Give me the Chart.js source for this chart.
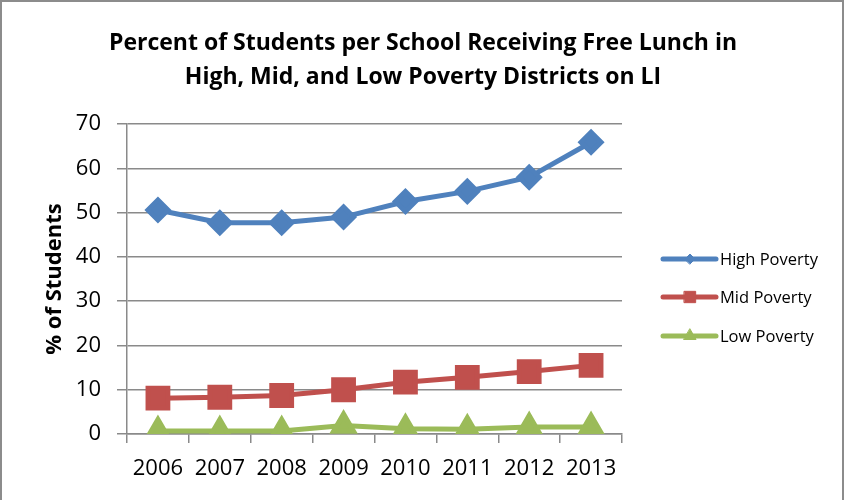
<!DOCTYPE html>
<html>
<head>
<meta charset="utf-8">
<script src="https://cdn.jsdelivr.net/npm/chart.js@4"></script>
<style>
  body { margin: 0; background: #fff; }
  #wrap { width: 846px; height: 500px; position: relative; }
</style>
</head>
<body>
<div id="wrap"><canvas id="lunchChart" width="846" height="500"></canvas></div>
<script>
// Data
const years = ['2006', '2007', '2008', '2009', '2010', '2011', '2012', '2013'];
const highPoverty = [50.6, 47.7, 47.7, 49.0, 52.5, 54.8, 58.0, 65.9];
const midPoverty = [8.1, 8.3, 8.7, 10.0, 11.7, 12.8, 14.1, 15.5];
const lowPoverty = [0.7, 0.7, 0.7, 1.9, 1.2, 1.1, 1.6, 1.6];
const seriesNames = ['High Poverty', 'Mid Poverty', 'Low Poverty'];

const FONT = '"Open Sans", "Noto Sans", sans-serif';
const GRID = '#8a8a8a';

// outer frame like the spreadsheet chart border
const framePlugin = {
    id: 'frame',
    beforeDraw(chart) {
        const c = chart.ctx;
        c.save();
        c.fillStyle = '#fff';
        c.fillRect(0, 0, chart.width, chart.height);
        c.strokeStyle = '#8c8c8c';
        c.lineWidth = 2;
        c.strokeRect(1, 1, 842, 540);
        c.restore();
    }
};

// legend drawn as line + marker sample, like Excel
const lineLegend = {
    id: 'lineLegend',
    afterDraw(chart) {
        const c = chart.ctx;
        const rows = [259, 297, 336];
        const sizes = [5, 8, 7];
        chart.data.datasets.forEach(function(ds, i) {
            const y = rows[i];
            c.save();
            c.strokeStyle = ds.borderColor;
            c.lineWidth = 5;
            c.lineCap = 'round';
            c.beginPath();
            c.moveTo(663, y);
            c.lineTo(716, y);
            c.stroke();
            c.fillStyle = ds.backgroundColor;
            c.strokeStyle = ds.borderColor;
            c.lineWidth = 1;
            Chart.helpers.drawPoint(c, { pointStyle: ds.pointStyle, radius: sizes[i], borderWidth: 1 }, 690, y);
            c.fillStyle = '#000';
            c.font = '16.5px ' + FONT;
            c.textBaseline = 'middle';
            c.textAlign = 'left';
            c.fillText(ds.label, 720, y + 1);
            c.restore();
        });
    }
};

const ctx = document.getElementById('lunchChart').getContext('2d');

new Chart(ctx, {
    type: 'line',
    data: {
        labels: years,
        datasets: [
            {
                label: seriesNames[0],
                data: highPoverty,
                borderColor: '#4F81BD',
                backgroundColor: '#4F81BD',
                pointStyle: 'rectRot',
                pointRadius: 10,
                borderWidth: 5
            },
            {
                label: seriesNames[1],
                data: midPoverty,
                borderColor: '#C0504D',
                backgroundColor: '#C0504D',
                pointStyle: 'rect',
                pointRadius: 14,
                borderWidth: 5
            },
            {
                label: seriesNames[2],
                data: lowPoverty,
                borderColor: '#9BBB59',
                backgroundColor: '#9BBB59',
                pointStyle: 'triangle',
                pointRadius: 11.5,
                borderWidth: 5
            }
        ]
    },
    options: {
        responsive: false,
        animation: false,
        layout: {
            padding: 0
        },
        elements: {
            line: { tension: 0 },
            point: { borderWidth: 1, hoverRadius: 10 }
        },
        plugins: {
            legend: { display: false },
            tooltip: { enabled: false },
            title: {
                display: true,
                text: ['Percent of Students per School Receiving Free Lunch in',
                       'High, Mid, and Low Poverty Districts on LI'],
                color: '#000',
                font: { family: FONT, size: 23, weight: 'bold', lineHeight: 1.48 },
                padding: { top: 26, bottom: 30 }
            }
        },
        scales: {
            x: {
                offset: true,
                grid: {
                    offset: true,
                    drawOnChartArea: false,
                    drawTicks: true,
                    tickLength: 9,
                    color: GRID,
                    lineWidth: 1.5
                },
                border: { color: GRID, width: 1.5 },
                ticks: {
                    color: '#000',
                    padding: 13,
                    font: { family: FONT, size: 22 }
                },
                afterFit(scale) { scale.height = 66; }
            },
            y: {
                min: 0,
                max: 70,
                ticks: {
                    stepSize: 10,
                    color: '#000',
                    padding: 16,
                    font: { family: FONT, size: 22 }
                },
                grid: {
                    color: GRID,
                    lineWidth: 1.5,
                    tickLength: 10
                },
                border: { color: GRID, width: 1.5 },
                title: {
                    display: true,
                    text: '% of Students',
                    color: '#000',
                    font: { family: FONT, size: 22, weight: 'bold' },
                    padding: { top: 42, bottom: 0 }
                },
                afterFit(scale) { scale.width = 127; }
            },
            // empty right-hand axis only reserves room for the legend
            legendSpace: {
                position: 'right',
                display: true,
                min: 0,
                max: 70,
                grid: { drawOnChartArea: false, drawTicks: false },
                border: { display: false },
                ticks: { display: false },
                afterFit(scale) { scale.width = 224; }
            }
        }
    },
    plugins: [framePlugin, lineLegend]
});
</script>
</body>
</html>
